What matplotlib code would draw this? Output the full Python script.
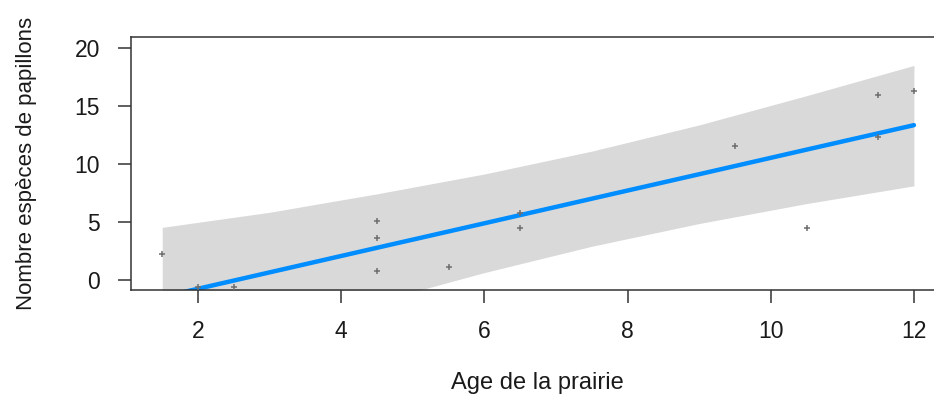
import matplotlib
matplotlib.use('Agg')
import matplotlib.pyplot as plt

# Observed butterfly species counts (partial residuals) by meadow age
age = [1.5, 2, 2.5, 4.5, 4.5, 4.5, 5.5, 6.5, 6.5, 9.5, 10.5, 11.5, 11.5, 12]
species = [2.21, -0.63, -0.63, 5.06, 3.63, 0.75, 1.09, 5.81, 4.46, 11.56, 4.46, 15.94, 12.35, 16.3]

# Fitted regression line with its confidence band
fit_age = [1.5, 3, 4.5, 6, 7.5, 9, 10.5, 12]
fit_value = [-1.46, 0.66, 2.78, 4.89, 7.01, 9.12, 11.24, 13.35]
band_low = [-7.46, -4.52, -1.87, 0.64, 2.91, 4.87, 6.59, 8.12]
band_high = [4.54, 5.84, 7.43, 9.14, 11.11, 13.37, 15.89, 18.5]

x_ticks = [2, 4, 6, 8, 10, 12]
y_ticks = [0, 5, 10, 15, 20]

plt.rcParams['font.family'] = ['Liberation Sans', 'DejaVu Sans']

fig = plt.figure(figsize=(9.34, 3.97), dpi=100)
# The plot region runs slightly past the right edge of the figure
ax = fig.add_axes([131 / 934, 1 - 290 / 397, 813 / 934, 253 / 397])

ax.fill_between(fit_age, band_low, band_high, color='#d9d9d9', linewidth=0, zorder=1)
ax.plot(fit_age, fit_value, color='#008dff', linewidth=3.2, solid_capstyle='round', zorder=2)
ax.plot(age, species, linestyle='none', marker='+', markersize=4, markeredgewidth=1.1,
        color='#6e6e6e', zorder=3)

ax.set_xlim(1.064, 12.42)
ax.set_ylim(-0.86, 20.95)
ax.set_xticks(x_ticks)
ax.set_yticks(y_ticks)
ax.tick_params(axis='both', direction='out', length=9.5, width=1.1, color='#333333',
               labelsize=16.5, labelcolor='#1a1a1a')
ax.tick_params(axis='x', pad=12)
ax.tick_params(axis='y', pad=13)

for spine in ax.spines.values():
    spine.set_color('#333333')
    spine.set_linewidth(1.1)

ax.set_xlabel('Age de la prairie', fontsize=17, color='#1a1a1a')
ax.xaxis.set_label_coords(0.5, -93 / 253)
ax.xaxis.label.set_verticalalignment('center')

ax.set_ylabel('Nombre espèces de papillons', fontsize=16, color='#1a1a1a')
ax.yaxis.set_label_coords(-104 / 813, 0.5)
ax.yaxis.label.set_verticalalignment('center')

fig.savefig('out.png', dpi=100)
